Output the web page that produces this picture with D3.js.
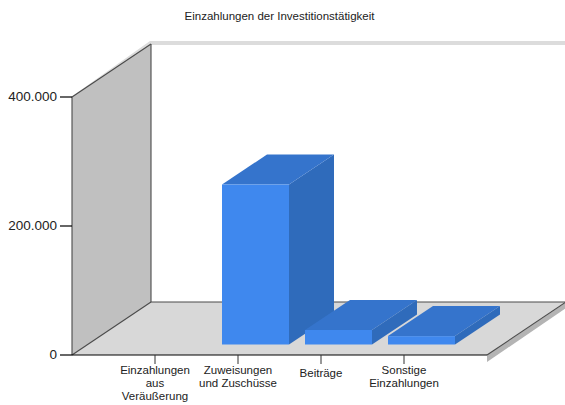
<!DOCTYPE html>
<html><head><meta charset="utf-8">
<script src="https://cdn.jsdelivr.net/npm/d3@7"></script>
<style>html,body{margin:0;padding:0;background:#fff}svg{display:block}text{font-family:"Liberation Sans",Arial,sans-serif;fill:#222}</style>
</head><body><svg id="c" width="565" height="405"></svg>
<script>
const title = "Einzahlungen der Investitionstätigkeit";
const categories = ["Einzahlungen aus Veräußerung","Zuweisungen und Zuschüsse","Beiträge","Sonstige Einzahlungen"];
const categoryLines = [["Einzahlungen","aus","Veräußerung"],["Zuweisungen","und Zuschüsse"],["Beiträge"],["Sonstige","Einzahlungen"]];
const values = [0,248000,22500,13000];
const yTicks = [0,200000,400000];

const svg = d3.select("#c");
const y = d3.scaleLinear().domain([0,400000]).range([355,97]);
const x = d3.scaleBand().domain(categories).range([113.5,445.5]);
const fmt = d3.formatLocale({decimal:",",thousands:".",grouping:[3],currency:["","€"]}).format(",d");
const poly = pts => "M"+pts.map(p=>p.join(",")).join("L")+"Z";

const L=72,R=487,B=y(0),T=y(400000),DX=79,DY=53,BX=45,BY=30;
// shadow strips
svg.append("path").attr("d",poly([[L-1,T],[L+DX-1,T-DY-3],[565,T-DY-3],[565,T-DY+1],[L+DX,T-DY+1],[L+1,T+1]])).attr("fill","#dcdcdc");
svg.append("path").attr("d",poly([[R,B],[R+DX,B-DY],[R+DX,B-DY+6],[R,B+7]])).attr("fill","#b4b4b4");
// side wall and floor
svg.append("path").attr("d",poly([[L,B],[L,T],[L+DX,T-DY],[L+DX,B-DY]])).attr("fill","#c0c0c0");
svg.append("path").attr("d",poly([[L,B],[L+DX,B-DY],[R+DX,B-DY],[R,B]])).attr("fill","#d8d8d8");
const edges=[[[L,T],[L,B]],[[L+DX,T-DY],[L+DX,B-DY]],[[L,T],[L+DX,T-DY]],[[L,B],[L+DX,B-DY]],[[L+DX,B-DY],[R+DX,B-DY]],[[R,B],[R+DX,B-DY]]];
svg.append("g").selectAll("line").data(edges).join("line")
  .attr("x1",d=>d[0][0]).attr("y1",d=>d[0][1]).attr("x2",d=>d[1][0]).attr("y2",d=>d[1][1])
  .attr("stroke","#4a4a4a").attr("stroke-width",1.1);

// bars
const barW=67, fx=d=>x(d.c)+x.bandwidth()/2+17.5-barW/2, base=344.5, offs=y(0)-base;
const data=categories.map((c,i)=>({c,v:values[i]})).filter(d=>d.v>0);
const g=svg.append("g").selectAll("g").data(data).join("g");
g.append("path").attr("fill","#2f6bbb").attr("d",d=>{const a=fx(d)+barW,t=y(d.v)-offs;return poly([[a,t],[a+BX,t-BY],[a+BX,base-BY],[a,base]]);});
g.append("path").attr("fill","#3574cc").attr("d",d=>{const a=fx(d),t=y(d.v)-offs;return poly([[a,t],[a+BX,t-BY],[a+barW+BX,t-BY],[a+barW,t]]);});
g.append("rect").attr("fill","#3f88ee").attr("x",fx).attr("y",d=>y(d.v)-offs).attr("width",barW).attr("height",d=>base-(y(d.v)-offs));

// axes
const ya=svg.append("g").attr("transform",`translate(${L},0)`).call(d3.axisLeft(y).tickValues(yTicks).tickFormat(fmt).tickSize(12).tickPadding(3).offset(0));
ya.select(".domain").remove();
ya.selectAll("line").attr("stroke","#000").attr("stroke-width",1.2);
ya.selectAll("text").attr("font-size",13.5).attr("fill","#222").attr("font-family","Liberation Sans");
svg.append("line").attr("x1",L).attr("x2",R).attr("y1",B).attr("y2",B).attr("stroke","#000").attr("stroke-width",1.2);

const xa=svg.append("g").attr("transform",`translate(0,${B})`).call(d3.axisBottom(x).tickSize(9).tickFormat("").offset(0));
xa.select(".domain").remove();
xa.selectAll("line").attr("stroke","#333");
categories.forEach((c,i)=>{
  const lines=categoryLines[i];
  svg.append("text").attr("text-anchor","middle").attr("font-size",11.5).attr("fill","#222")
    .selectAll("tspan").data(lines).join("tspan")
    .attr("x",x(c)+x.bandwidth()/2)
    .attr("y",(d,j)=>374+j*13+(lines.length===1?2.5:0))
    .text(d=>d);
});
svg.append("text").attr("x",279.5).attr("y",20).attr("text-anchor","middle").attr("font-size",11.5).attr("fill","#222").text(title);
</script></body></html>
